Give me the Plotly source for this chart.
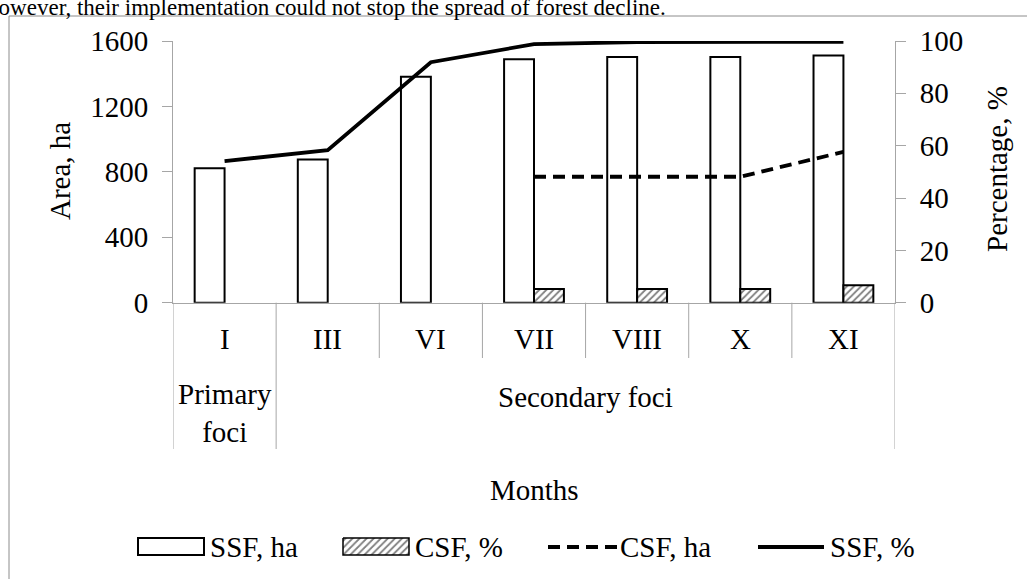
import plotly.graph_objects as go

# ---------------- data ----------------
months = ["I", "III", "VI", "VII", "VIII", "X", "XI"]
ssf_ha = [822, 876, 1382, 1488, 1502, 1502, 1512]          # SSF, ha (left axis)
csf_pct_months = ["VII", "VIII", "X", "XI"]
csf_pct = [5.2, 5.2, 5.2, 6.7]                               # CSF, % (right axis)
csf_ha_months = ["VII", "VIII", "X", "XI"]
csf_ha = [770, 770, 770, 922]                                # CSF, ha (left axis)
ssf_pct = [54.1, 58.3, 91.9, 98.8, 99.6, 99.7, 99.7]         # SSF, % (right axis)
groups = [("Primary<br>foci", 0, 0), ("Secondary foci", 1, 6)]
left_ticks = [0, 400, 800, 1200, 1600]
right_ticks = [0, 20, 40, 60, 80, 100]
header_text = "However, their implementation could not stop the spread of forest decline."

# ---------------- geometry helpers ----------------
W, H = 1027, 579
def fx(p):
    return p / W
def fy(p):
    return 1 - p / H

PL, PR, PT, PB = 173, 895, 41, 302.7
FONT = "Liberation Serif"
FS = 29
GRAY = "#a6a6a6"
BW = 0.29

fig = go.Figure()

fig.add_trace(go.Bar(
    x=months, y=ssf_ha, name="SSF, ha", width=BW, offset=-BW,
    marker=dict(color="white", line=dict(color="black", width=2)),
    xaxis="x", yaxis="y", showlegend=False))

fig.add_trace(go.Scatter(
    x=csf_ha_months, y=csf_ha, name="CSF, ha", mode="lines",
    line=dict(color="black", width=3.8, dash="12px,7px"),
    xaxis="x", yaxis="y", showlegend=False))

fig.add_trace(go.Bar(
    x=csf_pct_months, y=csf_pct, name="CSF, %", width=BW, offset=0,
    marker=dict(color="white", line=dict(color="black", width=2),
                pattern=dict(shape="/", fgcolor="black", bgcolor="white",
                             size=5, solidity=0.35)),
    xaxis="x", yaxis="y2", showlegend=False))

fig.add_trace(go.Scatter(
    x=months, y=ssf_pct, name="SSF, %", mode="lines",
    line=dict(color="black", width=3.8),
    xaxis="x", yaxis="y2", showlegend=False))

# hatched legend patch on a full-figure pixel axis
fig.add_trace(go.Scatter(
    x=[343, 409, 409, 343, 343], y=[538, 538, 555, 555, 538],
    mode="lines", fill="toself", fillcolor="white",
    fillpattern=dict(shape="/", fgcolor="black", bgcolor="white", size=5, solidity=0.35),
    line=dict(color="black", width=1.5), hoverinfo="skip",
    xaxis="x3", yaxis="y3", showlegend=False))

shapes = []
# outer border
shapes.append(dict(type="line", xref="paper", yref="paper", x0=fx(9), x1=fx(9), y0=fy(16), y1=fy(585),
                   line=dict(color="#8c8c8c", width=1)))
shapes.append(dict(type="line", xref="paper", yref="paper", x0=fx(9), x1=fx(1040), y0=fy(16), y1=fy(16),
                   line=dict(color="#8c8c8c", width=1)))
# category dividers
outer_bounds = [-0.5, 0.5, len(months) - 0.5]
for i in range(len(months) + 1):
    b = i - 0.5
    bottom = 449 if b in outer_bounds else 358
    shapes.append(dict(type="line", xref="x", yref="paper", x0=b, x1=b, y0=fy(PB), y1=fy(bottom),
                       line=dict(color=GRAY, width=1)))

# legend shapes
shapes.append(dict(type="rect", xref="paper", yref="paper", x0=fx(138), x1=fx(204), y0=fy(538), y1=fy(555),
                   line=dict(color="black", width=2), fillcolor="white"))
shapes.append(dict(type="line", xref="paper", yref="paper", x0=fx(548), x1=fx(617), y0=fy(547), y1=fy(547),
                   line=dict(color="black", width=3.8, dash="12px,7px")))
shapes.append(dict(type="line", xref="paper", yref="paper", x0=fx(758), x1=fx(824), y0=fy(547), y1=fy(547),
                   line=dict(color="black", width=3.8)))

annotations = []
tf = dict(family=FONT, size=FS, color="black")
for m in months:
    annotations.append(dict(x=m, xref="x", y=fy(339), yref="paper", text=m, showarrow=False,
                            font=tf, xanchor="center", yanchor="middle"))
for label, a, b in groups:
    yy = 413 if "<br>" in label else 397
    annotations.append(dict(x=(a + b) / 2, xref="x", y=fy(yy), yref="paper", text=label, showarrow=False,
                            font=tf, xanchor="center", yanchor="middle"))
annotations.append(dict(x=(PL + PR) / 2 / W, xref="paper", y=fy(490), yref="paper", text="Months",
                        showarrow=False, font=tf, xanchor="center", yanchor="middle"))
annotations.append(dict(x=fx(60), xref="paper", y=fy(171), yref="paper", text="Area, ha", textangle=-90,
                        showarrow=False, font=tf, xanchor="center", yanchor="middle"))
annotations.append(dict(x=fx(997), xref="paper", y=fy(169), yref="paper", text="Percentage, %", textangle=-90,
                        showarrow=False, font=tf, xanchor="center", yanchor="middle"))
# legend texts
for txt, x0 in [("SSF, ha", 208), ("CSF, %", 413), ("CSF, ha", 618), ("SSF, %", 828)]:
    annotations.append(dict(x=fx(x0), xref="paper", y=fy(547), yref="paper", text=txt, showarrow=False,
                            font=tf, xanchor="left", yanchor="middle"))
# cut-off document text above the chart
annotations.append(dict(x=fx(668), xref="paper", y=fy(8), yref="paper", text=header_text, showarrow=False,
                        font=dict(family=FONT, size=23, color="black"), xanchor="right", yanchor="middle"))

fig.update_layout(
    width=W, height=H,
    margin=dict(l=0, r=0, t=0, b=0, autoexpand=False),
    paper_bgcolor="white", plot_bgcolor="rgba(0,0,0,0)",
    barmode="overlay",
    showlegend=False,
    xaxis=dict(domain=[fx(PL), fx(PR)], type="category", categoryorder="array", categoryarray=months,
               range=[-0.5, len(months) - 0.5], showline=True, linecolor=GRAY, linewidth=1,
               ticks="", showticklabels=False, showgrid=False, zeroline=False, fixedrange=True),
    yaxis=dict(domain=[fy(PB), fy(PT)], range=[0, 1600], tickvals=left_ticks,
               showline=True, linecolor=GRAY, linewidth=1, ticks="outside", ticklen=10,
               tickcolor=GRAY, tickwidth=1, ticklabelstandoff=8,
               showgrid=False, zeroline=False, tickfont=tf),
    yaxis2=dict(overlaying="y", side="right", range=[0, 100], tickvals=right_ticks,
                showline=True, linecolor=GRAY, linewidth=1, ticks="outside", ticklen=10,
                tickcolor=GRAY, tickwidth=1, ticklabelstandoff=8,
                showgrid=False, zeroline=False, tickfont=tf),
    xaxis3=dict(domain=[0, 1], range=[0, W], visible=False, anchor="y3", fixedrange=True),
    yaxis3=dict(domain=[0, 1], range=[H, 0], visible=False, anchor="x3", fixedrange=True),
    shapes=shapes, annotations=annotations,
)

fig.write_html(
    "out.html",
    config={"displayModeBar": False},
    post_script="document.body.style.margin='0';document.body.style.overflow='hidden';",
)
